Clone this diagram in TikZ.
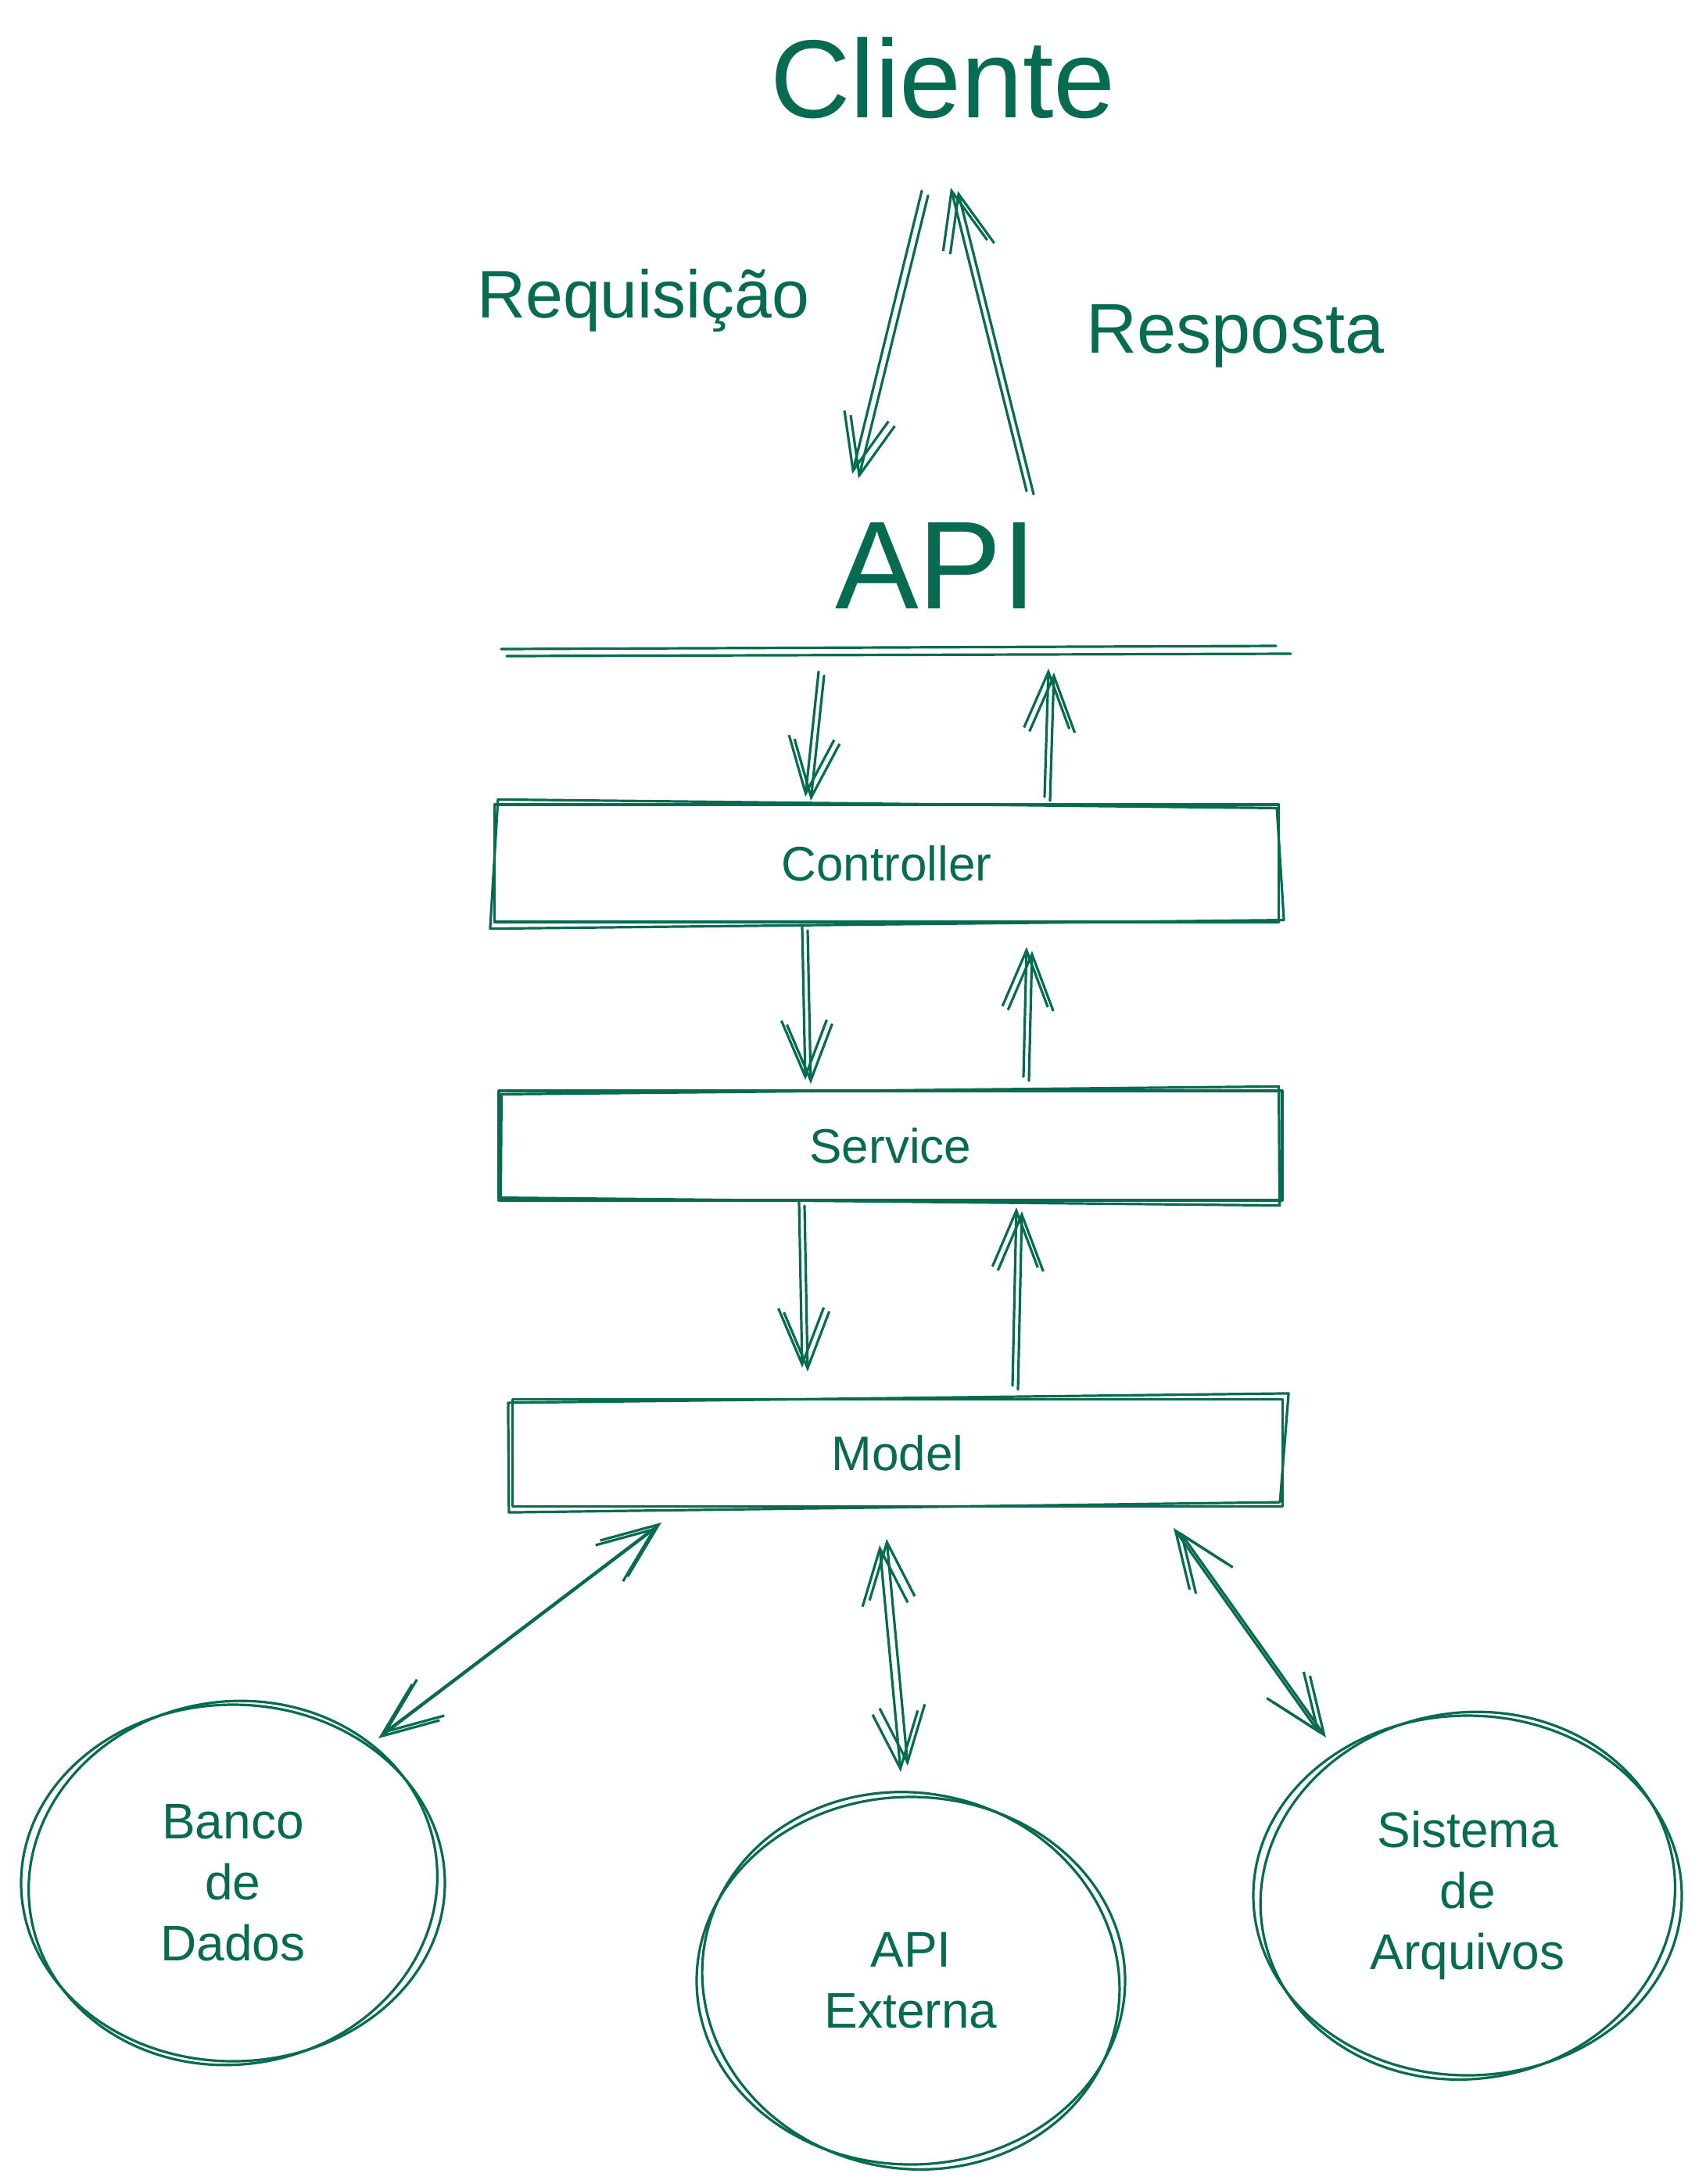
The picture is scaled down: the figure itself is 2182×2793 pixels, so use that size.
\documentclass[tikz,border=0pt]{standalone}
\usepackage{fontspec}
\setmainfont{Liberation Sans}
\usetikzlibrary{arrows.meta,shapes.geometric}
\definecolor{ink}{RGB}{6,107,80}
\begin{document}
\begin{tikzpicture}[x=1pt,y=-1pt,
  sk/.style={draw=ink,line width=3.2pt,line cap=round,line join=round},
  tip/.style={sk,-{Straight Barb[length=72pt,width=58pt]}},
  btip/.style={sk,{Straight Barb[length=72pt,width=58pt]}-{Straight Barb[length=72pt,width=58pt]}},
  txt/.style={text=ink,inner sep=0pt,align=center,font=\fontsize{64}{78}\selectfont},
  layer/.style={sk,inner sep=0pt,text=ink,font=\fontsize{62}{74}\selectfont},
  blob/.style={sk,ellipse,inner sep=0pt,text=ink,align=center,font=\fontsize{64}{78}\selectfont}]
\useasboundingbox (0,0) rectangle (2182,2793);
\fill[white] (0,0) rectangle (2182,2793);

% titles
\node[txt,anchor=base,font=\fontsize{142}{150}\selectfont] (cli) at (1206,150) {Cliente};
\node[txt,anchor=base,font=\fontsize{86}{96}\selectfont] (req) at (823,406) {Requisição};
\node[txt,anchor=base,font=\fontsize{90}{96}\selectfont] (res) at (1580,451) {Resposta};
\node[txt,anchor=base,font=\fontsize{160}{170}\selectfont] (api) at (1197,778) {API};

% client arrows
\coordinate (reqA) at (1179,244);
\coordinate (reqB) at (1090,606);
\coordinate (resA) at (1322,632);
\coordinate (resB) at (1225,244);
\draw[tip] (reqA) -- (reqB);
\draw[tip,transform canvas={xshift=8pt,yshift=-6pt}] (reqA) -- (reqB);
\draw[tip] (resA) -- (resB);
\draw[tip,transform canvas={xshift=-9pt,yshift=4pt}] (resA) -- (resB);

% API line
\coordinate (lnA) at (641,830);
\coordinate (lnB) at (1632,826);
\coordinate (lnC) at (648,839);
\coordinate (lnD) at (1651,836);
\draw[sk] (lnA) -- (lnB);
\draw[sk] (lnC) -- (lnD);

% layers
\node[layer,minimum width=1003,minimum height=150] (ctl) at (1134,1104) {Controller};
\node[layer,minimum width=1002,minimum height=140] (svc) at (1139,1465) {Service};
\node[layer,minimum width=985,minimum height=137] (mdl) at (1148,1858) {Model};
\draw[sk] ([shift={(6,-5)}]ctl.north west) -- ([shift={(-4,6)}]ctl.north east) -- ([shift={(5,-4)}]ctl.south east) -- ([shift={(-4,7)}]ctl.south west) -- cycle;
\draw[sk] ([shift={(5,6)}]svc.north west) -- ([shift={(-6,-4)}]svc.north east) -- ([shift={(-5,5)}]svc.south east) -- ([shift={(4,-5)}]svc.south west) -- cycle;
\draw[sk] ([shift={(-4,6)}]mdl.north west) -- ([shift={(6,-6)}]mdl.north east) -- ([shift={(-5,-7)}]mdl.south east) -- ([shift={(-3,6)}]mdl.south west) -- cycle;

% layer arrows
\coordinate (d1a) at (1054,864);
\coordinate (d1b) at (1037,1024);
\coordinate (u1a) at (1343,1024);
\coordinate (u1b) at (1348,860);
\coordinate (d2a) at (1033,1190);
\coordinate (d2b) at (1037,1386);
\coordinate (u2a) at (1316,1382);
\coordinate (u2b) at (1320,1216);
\coordinate (d3a) at (1029,1542);
\coordinate (d3b) at (1033,1754);
\coordinate (u3a) at (1302,1777);
\coordinate (u3b) at (1307,1549);
\foreach \a/\b in {d1a/d1b,u1a/u1b,d2a/d2b,u2a/u2b,d3a/d3b,u3a/u3b}{
  \draw[tip] (\a) -- (\b);
  \draw[tip,transform canvas={xshift=-7pt,yshift=5pt}] (\a) -- (\b);
}

% storage
\node[blob,minimum width=542,minimum height=456] (db) at (298,2408) {Banco\\de\\Dados};
\node[blob,minimum width=548,minimum height=470] (ext) at (1165,2533) {API\\Externa};
\node[blob,minimum width=548,minimum height=460] (fs) at (1877,2424) {Sistema\\de\\Arquivos};
\draw[sk,rotate around={9:(db.center)}] (db.center) ellipse[x radius=262,y radius=232];
\draw[sk,rotate around={-12:(ext.center)}] (ext.center) ellipse[x radius=268,y radius=240];
\draw[sk,rotate around={10:(fs.center)}] (fs.center) ellipse[x radius=266,y radius=234];

% model links
\coordinate (m1) at (846,1947);
\coordinate (s1) at (490,2217);
\coordinate (m2) at (1134,1968);
\coordinate (s2) at (1161,2258);
\coordinate (m3) at (1501,1954);
\coordinate (s3) at (1688,2217);
\draw[btip] (m1) -- (s1);
\draw[btip,transform canvas={xshift=-6pt,yshift=-6pt}] (m1) -- (s1);
\draw[btip] (m2) -- (s2);
\draw[btip,transform canvas={xshift=-9pt,yshift=-8pt}] (m2) -- (s2);
\draw[btip] (m3) -- (s3);
\draw[btip,transform canvas={xshift=8pt,yshift=-5pt}] (m3) -- (s3);
\end{tikzpicture}
\end{document}
